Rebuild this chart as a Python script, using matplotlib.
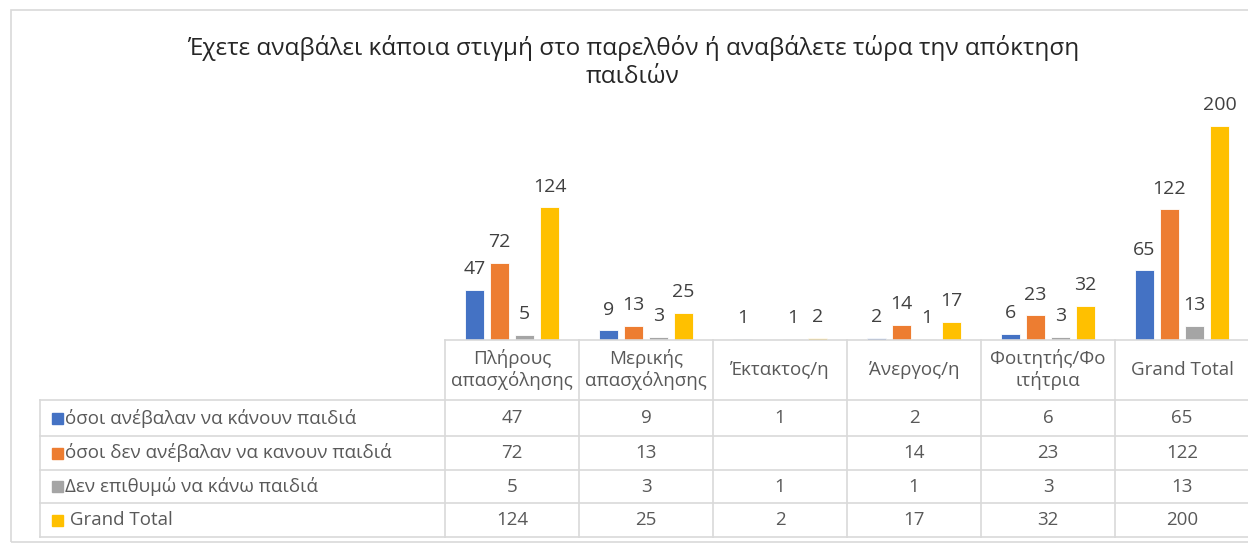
import numpy as np
import matplotlib
import matplotlib.pyplot as plt
from matplotlib.patches import Rectangle

matplotlib.rcParams['font.family'] = ['Open Sans', 'DejaVu Sans']

# data
categories = ['Πλήρους\nαπασχόλησης', 'Μερικής\nαπασχόλησης', 'Έκτακτος/η',
              'Άνεργος/η', 'Φοιτητής/Φο\nιτήτρια', 'Grand Total']
series_names = ['όσοι ανέβαλαν να κάνουν παιδιά',
                'όσοι δεν ανέβαλαν να κανουν παιδιά',
                'Δεν επιθυμώ να κάνω παιδιά',
                ' Grand Total']
postponed = [47, 9, 1, 2, 6, 65]
not_postponed = [72, 13, None, 14, 23, 122]
no_children = [5, 3, 1, 1, 3, 13]
grand_total = [124, 25, 2, 17, 32, 200]
colors = ['#4472C4', '#ED7D31', '#A5A5A5', '#FFC000']
title = 'Έχετε αναβάλει κάποια στιγμή στο παρελθόν ή αναβάλετε τώρα την απόκτηση\nπαιδιών'

all_series = [postponed, not_postponed, no_children, grand_total]

W, H = 1248, 547
fig = plt.figure(figsize=(W / 100, H / 100), dpi=100)

def fx(px):
    return px / W

def fy(py):
    return 1 - py / H

# chart border
fig.patches.append(Rectangle((fx(11), fy(542)), fx(1260) - fx(11), fy(10) - fy(542),
                             transform=fig.transFigure, fill=False,
                             edgecolor='#d9d9d9', lw=1.2))

fig.text(fx(633), fy(62), title, ha='center', va='center', fontsize=17.5,
         color='#262626', linespacing=1.2)

# bar area
x0, x1 = 445, 1249
ax = fig.add_axes([fx(x0), fy(340), fx(x1) - fx(x0), fy(95) - fy(340)])
ax.set_xlim(-0.5, len(categories) - 0.5)
ax.set_ylim(0, 229)
ax.axis('off')

pitch = 0.187
bw = 0.14
x = np.arange(len(categories))
for i, (vals, c) in enumerate(zip(all_series, colors)):
    pos = x + (i - 1.5) * pitch
    for xp, v in zip(pos, vals):
        if v is None:
            continue
        ax.bar(xp, v, width=bw, color=c, edgecolor='white', linewidth=0.6)
        ax.text(xp, v + 11, str(v), ha='center', va='bottom', fontsize=14,
                color='#404040', clip_on=False)

# data table
tab = fig.add_axes([0, 0, 1, 1])
tab.set_xlim(0, W)
tab.set_ylim(H, 0)
tab.axis('off')
grid = '#d9d9d9'
col_w = (x1 - x0) / len(categories)
row_y = [400, 436, 470, 503, 537]
left = 40
fs = 13.5

tab.plot([x0, x1], [340, 340], color=grid, lw=1.2)
for y in row_y:
    tab.plot([left, x1], [y, y], color=grid, lw=1.2)
tab.plot([left, left], [400, 537], color=grid, lw=1.2)
for j in range(len(categories) + 1):
    xx = x0 + j * col_w
    tab.plot([xx, xx], [340, 537], color=grid, lw=1.2)

for j, cat in enumerate(categories):
    tab.text(x0 + (j + 0.5) * col_w, 370, cat, ha='center', va='center',
             fontsize=fs, color='#595959', linespacing=1.2)

for i, (name, vals, c) in enumerate(zip(series_names, all_series, colors)):
    yc = (row_y[i] + row_y[i + 1]) / 2
    tab.add_patch(Rectangle((52, yc - 5.5), 11, 11, color=c))
    tab.text(65, yc, name, ha='left', va='center', fontsize=fs, color='#595959')
    for j, v in enumerate(vals):
        if v is None:
            continue
        tab.text(x0 + (j + 0.5) * col_w, yc, str(v), ha='center', va='center',
                 fontsize=fs, color='#595959')

plt.savefig('out.png', dpi=100)
